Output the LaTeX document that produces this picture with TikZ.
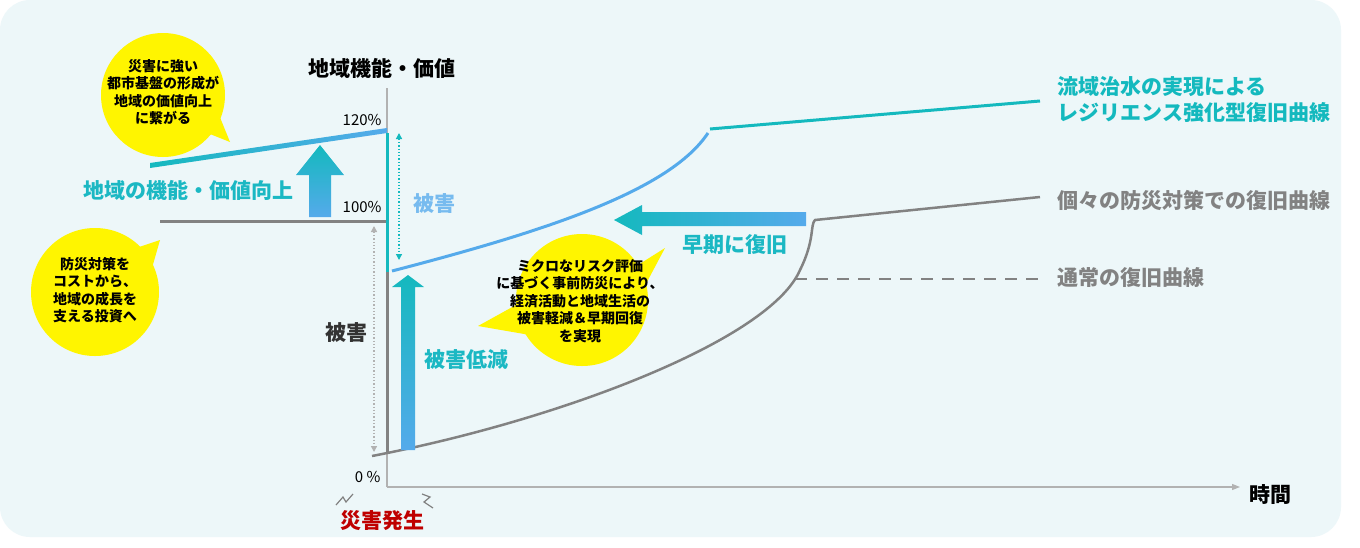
\documentclass[tikz,border=0pt]{standalone}
\usepackage{fontspec}
\setmainfont{Noto Sans CJK JP}
\usetikzlibrary{arrows.meta}
\definecolor{bgc}{RGB}{237,247,249}
\definecolor{teal1}{RGB}{20,185,190}
\definecolor{blue1}{RGB}{85,170,235}
\definecolor{grayl}{RGB}{130,130,130}
\definecolor{bub}{RGB}{255,245,0}
\tikzset{
  lbl/.style={font=\fontsize{21}{26}\selectfont\bfseries},
  btxt/.style={font=\fontsize{14}{17.5}\selectfont\bfseries, align=center},
  bubble/.style={fill=bub},
  axis/.style={draw=gray!60, line width=1.2pt},
}
\begin{document}
\begin{tikzpicture}[x=1pt,y=-1pt]
    \useasboundingbox (0,0) rectangle (1360,547);
    % Background
    \fill[white] (0,0) rectangle (1360,547);
    \fill[bgc, rounded corners=30pt] (0,0) rectangle (1341,537);

    % Axes
    \draw[axis,-{Triangle[length=8pt,width=6pt]}] (387,487) -- (1240,487);
    \draw[axis] (387,487) -- (387,88);
    \node[lbl] (yl) at (382,68) {地域機能・価値};
    \node[lbl] (xl) at (1270,494) {時間};
    \node[font=\fontsize{15}{18}\selectfont, anchor=east] (p120) at (385,120) {120\%};
    \node[font=\fontsize{15}{18}\selectfont, anchor=east] (p100) at (385,207) {100\%};
    \node[font=\fontsize{15}{18}\selectfont, anchor=east] (p0) at (384,477) {0 \%};

    % Usual recovery curve
    \draw[grayl, line width=3pt] (160,221) -- (387,221) -- (387,452);
    \draw[grayl, line width=2.5pt] (372,456) .. controls (560,420) and (770,340) .. (800,270)
        .. controls (815,240) and (810,225) .. (815,220) -- (1040,197);
    \draw[grayl, line width=2.5pt, dash pattern=on 12pt off 9pt] (795,279) -- (1040,279);

    % Resilient recovery curve
    \shade[left color=teal1, right color=blue1] (150,163) -- (387,128) -- (387,133) -- (150,168) -- cycle;
    \draw[teal1, line width=3pt] (387,133) -- (387,272);
    \draw[blue1, line width=3pt] (392,271) .. controls (550,230) and (670,190) .. (708,133);
    \draw[teal1, line width=3pt] (710,129) -- (1040,101);

    % Damage markers
    \draw[teal1, line width=1.3pt, dotted, {Triangle[length=6pt,width=6pt]}-{Triangle[length=6pt,width=6pt]}] (399,133) -- (399,260);
    \node[lbl, text=blue1!80] (dmg1) at (434,204) {被害};
    \draw[gray!60, line width=1.3pt, dotted, {Triangle[length=6pt,width=6pt]}-{Triangle[length=6pt,width=6pt]}] (374,226) -- (374,452);
    \node[lbl, text=black!80] (dmg2) at (346,333) {被害};

    % Block arrows
    \shade[bottom color=blue1, top color=teal1] (309,217) -- (309,175) -- (296,175) -- (320,145) -- (344,175) -- (331,175) -- (331,217) -- cycle;
    \shade[bottom color=blue1, top color=teal1] (401,450) -- (401,287) -- (392,287) -- (408,275) -- (424,287) -- (415,287) -- (415,450) -- cycle;
    \shade[left color=teal1, right color=blue1] (806,212) -- (642,212) -- (642,205) -- (614,220) -- (642,235) -- (642,226) -- (806,226) -- cycle;
    \node[lbl, text=teal1!90!blue1] (up) at (188,190) {地域の機能・価値向上};
    \node[lbl, text=teal1!90!blue1] (red) at (466,360) {被害低減};
    \node[lbl, text=teal1!90!blue1] (early) at (735,245) {早期に復旧};

    % Right legend
    \node[lbl, text=teal1, anchor=west, align=left] (lg1) at (1054,100) {流域治水の実現による\\レジリエンス強化型復旧曲線};
    \node[lbl, text=grayl, anchor=west] (lg2) at (1054,200) {個々の防災対策での復旧曲線};
    \node[lbl, text=grayl, anchor=west] (lg3) at (1054,278) {通常の復旧曲線};

    % Disaster occurrence
    \node[lbl, text=red!75!black] (dis) at (382,521) {災害発生};
    \draw[gray, line width=1.2pt] (336,505) -- (343,497) -- (346,502) -- (353,494);
    \draw[gray, line width=1.2pt] (422,494) -- (430,497) -- (424,502) -- (433,508);

    % Speech bubbles
    \fill[bubble] (163,95) circle (62pt);
    \fill[bubble] (200,130) -- (230,142) -- (215,105) -- cycle;
    \node[btxt] (b1) at (163,92) {災害に強い\\都市基盤の形成が\\地域の価値向上\\に繋がる};
    \fill[bubble] (95,292) circle (64pt);
    \fill[bubble] (130,250) -- (160,240) -- (150,275) -- cycle;
    \node[btxt] (b2) at (95,290) {防災対策を\\コストから、\\地域の成長を\\支える投資へ};
    \fill[bubble] (582,300) circle (66pt);
    \fill[bubble] (525,300) -- (478,326) -- (530,335) -- cycle;
    \fill[bubble] (630,270) -- (665,248) -- (640,295) -- cycle;
    \node[btxt] (b3) at (580,301) {ミクロなリスク評価\\に基づく事前防災により、\\経済活動と地域生活の\\被害軽減＆早期回復\\を実現};
\end{tikzpicture}
\end{document}
